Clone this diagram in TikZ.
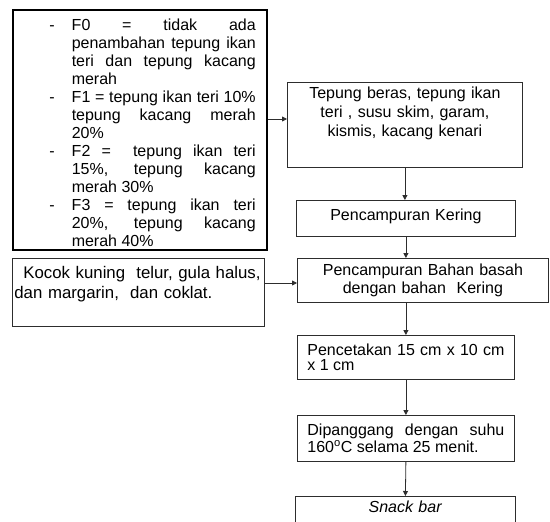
\documentclass[tikz,border=0pt]{standalone}
\usepackage{fontspec}
\setmainfont{Liberation Sans}
\usetikzlibrary{arrows.meta}
\tolerance=10000 \hbadness=10000
\newcommand\fitem[1]{\par\noindent\hangindent=48pt\hangafter=0\llap{-\hspace{17pt}}#1\par}

\begin{document}
\begin{tikzpicture}[x=1pt,y=-1pt,font=\fontsize{16}{18}\selectfont,
  box/.style={draw=gray!35!black, line width=0.8pt, anchor=north west, inner sep=0pt},
  arr/.style={draw=gray!35!black, line width=0.8pt, -{Triangle[length=5pt,width=5pt]}}]
  \useasboundingbox (0,0) rectangle (550,522);
  \node[box, draw=black, line width=1.5pt, inner xsep=11pt, text width=232pt, minimum height=240pt, align=justify] (formula) at (12,9) {%
    \fitem{F0 = tidak ada\linebreak penambahan tepung ikan\linebreak teri dan tepung kacang\linebreak merah}
    \fitem{F1 = tepung ikan teri 10\%\linebreak tepung kacang merah\linebreak 20\%}
    \fitem{F2 =\ \ tepung ikan teri\linebreak 15\%, tepung kacang\linebreak merah 30\%}
    \fitem{F3 = tepung ikan teri\linebreak 20\%, tepung kacang\linebreak merah 40\%}};
  \node[box, minimum width=235pt, text width=235pt, align=center, inner ysep=5pt, text depth=63pt, font=\fontsize{16}{19}\selectfont] (tepung) at (287,82) {Tepung beras, tepung ikan\\ teri , susu skim, garam,\\ kismis, kacang kenari};
  \node[box, minimum width=219pt, minimum height=36pt, text width=219pt, align=center, text depth=8pt] (kering) at (296,200) {Pencampuran Kering};
  \node[box, minimum width=252pt, text width=248pt, inner xsep=2pt, inner ysep=8pt, text depth=40pt, align=left, font=\fontsize{16.8}{20}\selectfont] (kocok) at (12,258) {\hspace*{9pt}Kocok kuning\ \ telur, gula halus,\\ dan margarin,\ \ dan coklat.};
  \node[box, minimum width=251pt, minimum height=44pt, text width=251pt, align=center] (bahan) at (297,258) {Pencampuran Bahan basah\\ dengan bahan\ \ Kering};
  \node[box, minimum height=44pt, inner xsep=10pt, text width=197pt, align=justify, font=\fontsize{16}{15.5}\selectfont] (cetak) at (297,335) {Pencetakan 15 cm x 10 cm\linebreak x 1 cm};
  \node[box, minimum height=46pt, inner xsep=10pt, text width=197pt, align=justify, font=\fontsize{16}{17}\selectfont] (panggang) at (297,415) {Dipanggang dengan suhu\linebreak 160\textsuperscript{o}C selama 25 menit.};
  \node[box, minimum width=220pt, text width=220pt, align=center, inner ysep=5pt, text depth=30pt] (snack) at (295,496) {\textit{Snack bar}};
  \draw[arr] (formula.east |- 0,119) -- (tepung.west |- 0,119);
  \draw[arr] (tepung.south) -- (tepung.south |- kering.north);
  \draw[arr] (kering.south) -- (kering.south |- bahan.north);
  \draw[arr] (kocok.east |- 0,283) -- (bahan.west |- 0,283);
  \draw[arr] (cetak.north |- bahan.south) -- (cetak.north);
  \draw[arr] (cetak.south) -- (panggang.north);
  \draw[arr] (panggang.south) -- (snack.north);
\end{tikzpicture}
\end{document}
